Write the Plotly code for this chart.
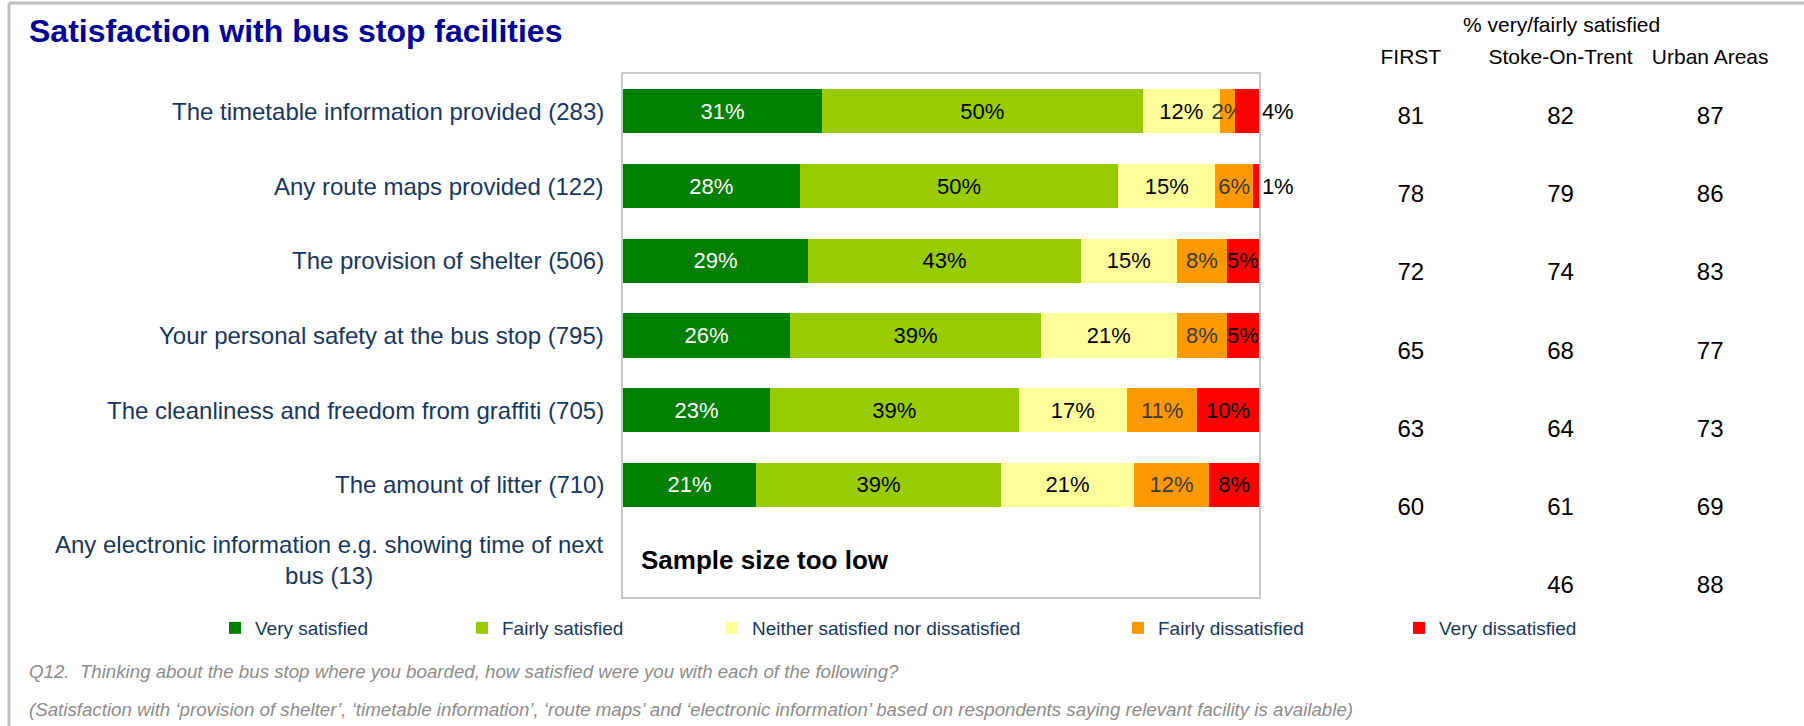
import plotly.graph_objects as go

W, H = 1804, 726

facilities = [
    "The timetable information provided (283)",
    "Any route maps provided (122)",
    "The provision of shelter (506)",
    "Your personal safety at the bus stop (795)",
    "The cleanliness and freedom from graffiti (705)",
    "The amount of litter (710)",
    "Any electronic information e.g. showing time of next<br>bus (13)",
]

# shares (%) for the first six facilities; the last one had too few answers
very_satisfied = [31.3, 27.8, 29.1, 26.3, 23.1, 20.9]
fairly_satisfied = [50.4, 50.1, 42.9, 39.4, 39.1, 38.6]
neither = [12.2, 15.2, 15.1, 21.4, 17.1, 20.8]
fairly_dissatisfied = [2.3, 6.0, 7.9, 7.9, 11.0, 11.9]
very_dissatisfied = [3.8, 0.9, 5.0, 5.0, 9.7, 7.8]

# % very/fairly satisfied comparison table
table_columns = ["FIRST", "Stoke-On-Trent", "Urban Areas"]
first_vals = [81, 78, 72, 65, 63, 60, None]
stoke_vals = [82, 79, 74, 68, 64, 61, 46]
urban_vals = [87, 86, 83, 77, 73, 69, 88]

FONT = "Liberation Sans, Arial, sans-serif"
NAVY = "#17375E"

series = [
    ("Very satisfied", very_satisfied, "#008000", "white"),
    ("Fairly satisfied", fairly_satisfied, "#99CC00", "black"),
    ("Neither satisfied nor dissatisfied", neither, "#FFFF99", "black"),
    ("Fairly dissatisfied", fairly_dissatisfied, "#FF9900", "#3a3a3a"),
    ("Very dissatisfied", very_dissatisfied, "#FF0000", "black"),
]
legend_left = [215, 462, 712, 1118, 1399]

fig = go.Figure()

for i, (name, vals, color, txt) in enumerate(series):
    lg = "legend" if i == 0 else f"legend{i + 1}"
    # tiny end segments get their label just past the bar end
    if i == len(series) - 1:
        pos = ["outside" if v < 4 else "inside" for v in vals]
    else:
        pos = "inside"
    fig.add_trace(go.Bar(
        y=facilities[:len(vals)], x=vals, orientation="h", name=name,
        marker=dict(color=color, line=dict(width=0)),
        texttemplate="%{x:.0f}%", textposition=pos,
        insidetextanchor="middle", textangle=0, constraintext="none",
        textfont=dict(color=txt, size=22, family=FONT),
        cliponaxis=False, legend=lg,
        hovertemplate="%{y}<br>" + name + ": %{x:.0f}%<extra></extra>",
    ))

for col, vals in zip(table_columns, [first_vals, stoke_vals, urban_vals]):
    fig.add_trace(go.Scatter(
        x=[col] * len(vals), y=facilities, mode="text",
        text=[("" if v is None else str(v)) for v in vals],
        textfont=dict(size=24, color="black", family=FONT),
        xaxis="x2", yaxis="y2", showlegend=False, hoverinfo="skip",
    ))

# category labels left of the bars
for lab in facilities:
    fig.add_annotation(
        x=606 / W, xref="paper", xanchor="right",
        y=lab, yref="y", text=lab, showarrow=False,
        align="center" if "<br>" in lab else "right",
        font=dict(size=24, color=NAVY, family=FONT),
    )

fig.add_annotation(
    x=2.5, xref="x", xanchor="left", y=facilities[-1], yref="y",
    text="<b>Sample size too low</b>", showarrow=False,
    font=dict(size=26, color="black", family=FONT),
)

fig.add_annotation(
    x=27 / W, y=1 - 31 / H, xref="paper", yref="paper",
    xanchor="left", yanchor="middle", showarrow=False,
    text="<b>Satisfaction with bus stop facilities</b>",
    font=dict(size=32, color="#000099", family=FONT),
)
fig.add_annotation(
    x=1561 / W, y=1 - 25 / H, xref="paper", yref="paper",
    xanchor="center", yanchor="middle", showarrow=False,
    text="% very/fairly satisfied",
    font=dict(size=21, color="black", family=FONT),
)

notes = [
    ("Q12.  Thinking about the bus stop where you boarded, how satisfied were you with each of the following?", 671),
    ("(Satisfaction with \u2018provision of shelter\u2019, \u2018timetable information\u2019, \u2018route maps\u2019 and "
     "\u2018electronic information\u2019 based on respondents saying relevant facility is available)", 709),
]
for txt, ypx in notes:
    fig.add_annotation(
        x=27 / W, y=1 - ypx / H, xref="paper", yref="paper",
        xanchor="left", yanchor="middle", showarrow=False,
        text=f"<i>{txt}</i>",
        font=dict(size=18.7, color="#8C8C8C", family=FONT),
    )

# slide frame
fig.add_shape(type="line", xref="paper", yref="paper", x0=9 / W, x1=1,
              y0=1 - 3 / H, y1=1 - 3 / H, line=dict(color="#BFBFBF", width=3))
fig.add_shape(type="line", xref="paper", yref="paper", x0=9 / W, x1=9 / W,
              y0=0, y1=1 - 3 / H, line=dict(color="#BFBFBF", width=3))

legends = {}
for i, xl in enumerate(legend_left):
    key = "legend" if i == 0 else f"legend{i + 1}"
    legends[key] = dict(
        x=xl / W, y=1 - 628 / H, xanchor="left", yanchor="middle",
        orientation="h", bgcolor="rgba(0,0,0,0)",
        font=dict(size=19, color=NAVY, family=FONT),
    )

fig.update_layout(
    width=W, height=H,
    margin=dict(l=0, r=0, t=0, b=0),
    paper_bgcolor="white", plot_bgcolor="white",
    barmode="stack", bargap=0.41,
    font=dict(family=FONT),
    showlegend=True,
    xaxis=dict(domain=[623 / W, 1259 / W], range=[0, 100.02],
               showticklabels=False, showgrid=False, zeroline=False,
               showline=True, mirror=True, linecolor="#C8C8C8", linewidth=2,
               ticks="", fixedrange=True),
    yaxis=dict(domain=[1 - 597 / H, 1 - 74 / H], type="category",
               categoryorder="array", categoryarray=facilities,
               range=[len(facilities) - 0.5, -0.5],
               showticklabels=False, showgrid=False, zeroline=False,
               showline=True, mirror=True, linecolor="#C8C8C8", linewidth=2,
               ticks="", fixedrange=True),
    xaxis2=dict(domain=[1336 / W, 1785 / W], anchor="y2", side="top",
                type="category", categoryorder="array",
                categoryarray=table_columns, range=[-0.5, 2.5],
                showgrid=False, zeroline=False,
                showline=False, ticks="", ticklabelstandoff=10,
                tickfont=dict(size=21, color="black", family=FONT)),
    yaxis2=dict(domain=[1 - 626 / H, 1 - 79 / H], anchor="x2",
                type="category", categoryorder="array",
                categoryarray=facilities,
                range=[len(facilities) - 0.5, -0.5],
                showticklabels=False, showgrid=False, zeroline=False,
                showline=False, ticks=""),
    **legends,
)

fig.write_html(
    "out.html",
    config={"displayModeBar": False},
    post_script="document.body.style.margin='0';document.body.style.overflow='hidden';",
)
